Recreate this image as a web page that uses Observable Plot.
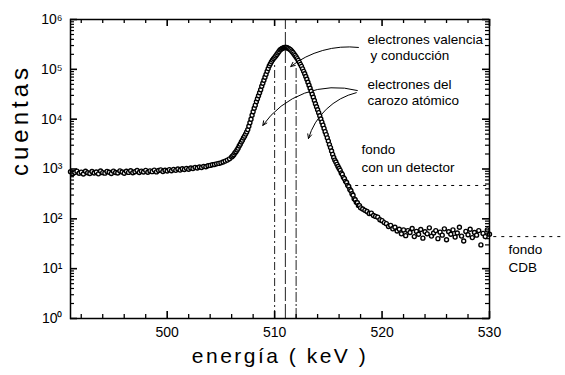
<!DOCTYPE html>
<html>
<head>
<meta charset="utf-8">
<script src="https://cdn.jsdelivr.net/npm/d3@7"></script>
<script src="https://cdn.jsdelivr.net/npm/@observablehq/plot@0.6"></script>
<style>
  html, body { margin: 0; padding: 0; background: white; }
</style>
</head>
<body>
<div id="chart"></div>
<script>
// Low-energy plateau (keV, counts)
const energiaA = [491.0,491.2,491.4,491.6,491.8,492.0,492.2,492.4,492.6,492.8,493.0,493.2,493.4,493.6,493.8,494.0,494.2,494.4,494.6,494.8,495.0,495.2,495.4,495.6,495.8,496.0,496.2,496.4,496.6,496.8,497.0,497.2,497.4,497.6,497.8,498.0,498.2,498.4,498.6,498.8,499.0,499.2,499.4,499.6,499.8,500.0,500.2,500.4,500.6,500.8,501.0,501.2,501.4,501.6,501.8,502.0,502.2,502.4,502.6,502.8,503.0,503.2,503.4,503.6,503.8,504.0,504.2,504.4,504.6,504.8,505.0,505.2,505.4,505.6,505.8];
const cuentasA = [880,805,850,905,820,865,795,900,840,815,890,830,870,800,910,845,825,895,860,810,905,850,830,915,870,820,900,855,925,840,880,935,850,905,870,940,860,915,885,950,875,930,960,890,945,910,970,925,985,940,1000,950,1010,975,1030,990,1050,1020,1080,1045,1100,1075,1130,1110,1165,1180,1215,1230,1270,1295,1330,1385,1440,1510,1600];
// Annihilation peak
const energiaB = [506.0,506.1,506.2,506.3,506.4,506.5,506.6,506.7,506.8,506.9,507.0,507.1,507.2,507.3,507.4,507.5,507.6,507.7,507.8,507.9,508.0,508.1,508.2,508.3,508.4,508.5,508.6,508.7,508.8,508.9,509.0,509.1,509.2,509.3,509.4,509.5,509.6,509.7,509.8,509.9,510.0,510.1,510.2,510.3,510.4,510.5,510.6,510.7,510.8,510.9,511.0,511.1,511.2,511.3,511.4,511.5,511.6,511.7,511.8,511.9,512.0,512.1,512.2,512.3,512.4,512.5,512.6,512.7,512.8,512.9,513.0,513.1,513.2,513.3,513.4,513.5,513.6,513.7,513.8,513.9,514.0,514.1,514.2,514.3,514.4,514.5,514.6,514.7,514.8,514.9,515.0,515.1,515.2,515.3,515.4,515.5,515.6,515.7,515.8,515.9,516.0,516.1,516.2,516.3,516.4,516.5,516.6,516.7,516.8,516.9,517.0,517.1,517.2,517.3,517.4,517.5,517.6,517.7,517.8,517.9,518.0];
const cuentasB = [1740,1830,1940,2100,2230,2410,2620,2890,3150,3480,3790,4180,4560,5020,5550,6180,7230,8520,9990,12000,14100,16600,19100,22400,25700,29500,33900,38900,45700,52500,60300,69200,79400,91200,103500,117500,128800,141300,153100,164100,173800,186200,199500,213800,229100,245500,254100,263000,269200,273500,275400,273500,269200,263000,254100,245500,231700,218800,204200,190500,177800,164100,151400,138000,125900,114800,102300,91200,81300,71600,63100,55000,47900,41700,36300,31600,27500,23700,20400,17800,15500,13500,11700,10100,8710,7590,6530,5620,4900,4220,3630,3090,2690,2290,1970,1700,1510,1380,1240,1120,1020,940,830,780,680,640,565,535,470,445,390,365,318,298,252,242,214,210,186,184,166];
// High-energy tail
const energiaC = [518.2,518.4,518.6,518.8,519.0,519.2,519.4,519.6,519.8,520.0,520.2,520.4,520.6,520.8,521.0,521.2,521.4,521.6,521.8,522.0,522.2,522.4,522.6,522.8,523.0,523.2,523.4,523.6,523.8,524.0,524.2,524.4,524.6,524.8,525.0,525.2,525.4,525.6,525.8,526.0,526.2,526.4,526.6,526.8,527.0,527.2,527.4,527.6,527.8,528.0,528.2,528.4,528.6,528.8,529.0,529.2,529.4,529.6,529.8,530.0];
const cuentasC = [158,148,140,128,130,117,112,108,96,92,84,80,70,74,63,68,57,62,50,60,46,58,53,64,44,56,49,61,41,55,50,66,45,52,58,40,54,47,63,38,55,49,60,43,52,68,45,36,56,48,62,42,53,47,58,30,51,44,60,49];

// Axis ticks and labels
const xTicksMayores = [500, 510, 520, 530];
const xTicksMenores = [492,494,496,498,502,504,506,508,512,514,516,518,522,524,526,528];
const yTicksMayores = [1, 10, 100, 1000, 10000, 100000, 1000000];
const exponentes = ["⁰","¹","²","³","⁴","⁵","⁶"];
const tituloX = "energía ( keV )";
const tituloY = "cuentas";

// Reference lines
const linea510 = [{energia: 510, desde: 1, hasta: 120000}];
const linea511 = [{energia: 511, desde: 1, hasta: 1000000}];
const linea512 = [{energia: 512, desde: 1, hasta: 110000}];
const fondos = [
  {nivel: 467, desde: 516.8, hasta: 530},
  {nivel: 44, desde: 530.4, hasta: 536.9}
];
const flechaValencia = [{x1: 517.8, y1: 275000, x2: 511.5, y2: 114000}];
const flechaCarozo1 = [{x1: 517.7, y1: 37600, x2: 508.9, y2: 7500}];
const flechaCarozo2 = [{x1: 517.6, y1: 34000, x2: 513.15, y2: 4100}];
const anotaciones = [
  {x: 518.64, y: 398000, texto: "electrones valencia"},
  {x: 518.92, y: 185000, texto: "y conducción"},
  {x: 518.64, y: 49700, texto: "electrones del"},
  {x: 518.64, y: 23700, texto: "carozo atómico"},
  {x: 518.08, y: 2400, texto: "fondo"},
  {x: 518.08, y: 1050, texto: "con un detector"},
  {x: 531.77, y: 24, texto: "fondo"},
  {x: 531.77, y: 10.5, texto: "CDB"}
];

const datos = [
  ...energiaA.map((e, i) => ({energia: e, cuentas: cuentasA[i]})),
  ...energiaB.map((e, i) => ({energia: e, cuentas: cuentasB[i]})),
  ...energiaC.map((e, i) => ({energia: e, cuentas: cuentasC[i]}))
];

const yTicksMenores = [];
for (const d of yTicksMayores.slice(0, -1)) for (let m = 2; m <= 9; m++) yTicksMenores.push(d * m);

const ANCHO = 565, ALTO = 375, MI = 70, MD = 76, MS = 19, MB = 57;
const anchoMarco = ANCHO - MI - MD;   // 419
const altoMarco = ALTO - MS - MB;     // 299
const TM = 7, Tm = 4;                 // major / minor tick length

const flecha = (datosFlecha, bend) => Plot.arrow(datosFlecha, {
  x1: "x1", y1: "y1", x2: "x2", y2: "y2", bend, stroke: "black", strokeWidth: 1, headLength: 7, headAngle: 50
});

const plot = Plot.plot({
  width: ANCHO,
  height: ALTO,
  marginLeft: MI,
  marginRight: MD,
  marginTop: MS,
  marginBottom: MB,
  x: {domain: [491, 530]},
  y: {type: "log", domain: [1, 1000000]},
  style: {fontFamily: "'Liberation Sans', Arial, sans-serif", fontSize: "14px", color: "black", background: "white"},
  marks: [
    Plot.ruleX(linea510, {x: "energia", y1: "desde", y2: "hasta", strokeDasharray: "8,3,2,3", stroke: "#222", strokeWidth: 1}),
    Plot.ruleX(linea511, {x: "energia", y1: "desde", y2: "hasta", strokeDasharray: "14,3", stroke: "#222", strokeWidth: 1}),
    Plot.ruleX(linea512, {x: "energia", y1: "desde", y2: "hasta", strokeDasharray: "10,2,2,2", stroke: "#222", strokeWidth: 1}),
    Plot.ruleY(fondos, {y: "nivel", x1: "desde", x2: "hasta", strokeDasharray: "3,5", stroke: "black", strokeWidth: 1, clip: false}),
    flecha(flechaValencia, -22),
    flecha(flechaCarozo1, -35),
    flecha(flechaCarozo2, -30),
    Plot.dot(datos, {x: "energia", y: "cuentas", r: 2, stroke: "black", fill: "white", strokeWidth: 1.4}),
    Plot.text(anotaciones, {x: "x", y: "y", text: "texto", textAnchor: "start", fontSize: 13.5, fill: "black"}),
    // inward ticks on all four sides
    Plot.ruleX(xTicksMayores, {x: d => d, insetTop: altoMarco - TM, stroke: "black", strokeWidth: 1.6}),
    Plot.ruleX(xTicksMayores, {x: d => d, insetBottom: altoMarco - TM, stroke: "black", strokeWidth: 1.6}),
    Plot.ruleX(xTicksMenores, {x: d => d, insetTop: altoMarco - Tm, stroke: "black", strokeWidth: 1.3}),
    Plot.ruleX(xTicksMenores, {x: d => d, insetBottom: altoMarco - Tm, stroke: "black", strokeWidth: 1.3}),
    Plot.ruleY(yTicksMayores, {y: d => d, insetRight: anchoMarco - TM, stroke: "black", strokeWidth: 1.6}),
    Plot.ruleY(yTicksMayores, {y: d => d, insetLeft: anchoMarco - TM, stroke: "black", strokeWidth: 1.6}),
    Plot.ruleY(yTicksMenores, {y: d => d, insetRight: anchoMarco - Tm, stroke: "black", strokeWidth: 1.2}),
    Plot.ruleY(yTicksMenores, {y: d => d, insetLeft: anchoMarco - Tm, stroke: "black", strokeWidth: 1.2}),
    Plot.frame({stroke: "black", strokeWidth: 1.5}),
    // tick labels
    Plot.axisX(xTicksMayores, {anchor: "bottom", tickSize: 0, tickPadding: 9, fontSize: 14, label: null}),
    Plot.axisY(yTicksMayores, {anchor: "left", tickSize: 0, tickPadding: 8, fontSize: 14, label: null,
      tickFormat: d => "10" + exponentes[Math.round(Math.log10(d))]}),
    // axis titles
    Plot.text([tituloY], {frameAnchor: "left", dx: -50, dy: 7, rotate: -90, fontSize: 24, fill: "black"}),
    Plot.text([tituloX], {frameAnchor: "bottom", dy: 44, fontSize: 21, fill: "black"})
  ]
});
document.getElementById("chart").appendChild(plot);

// widen the scanned-looking axis titles
d3.select(plot).selectAll("text").each(function () {
  const t = this.textContent;
  if (t === tituloX) this.style.letterSpacing = "2.5px";
  if (t === tituloY) this.style.letterSpacing = "4px";
});
</script>
</body>
</html>
